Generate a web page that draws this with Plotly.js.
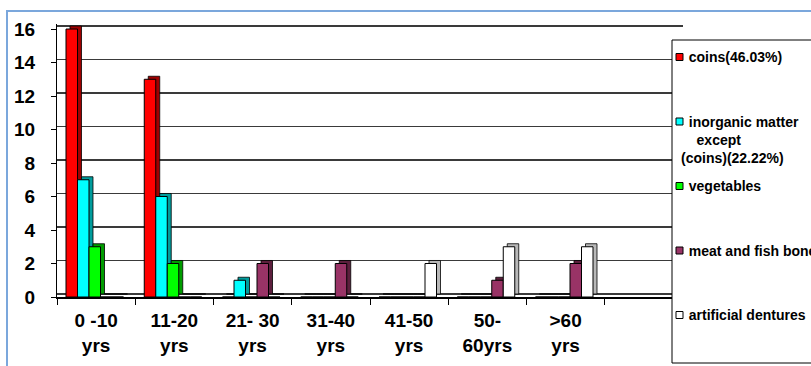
<!DOCTYPE html>
<html>
<head>
<meta charset="utf-8">
<script src="https://cdn.plot.ly/plotly-3.0.1.min.js"></script>
<style>
  html, body { margin: 0; padding: 0; background: #ffffff; }
  #chart { width: 811px; height: 366px; }
</style>
</head>
<body>
<div id="chart"></div>
<script>
// Age groups (x categories)
const ageGroups = ['0 -10<br>yrs', '11-20<br>yrs', '21- 30<br>yrs', '31-40<br>yrs', '41-50<br>yrs', '50-<br>60yrs', '>60<br>yrs'];

// Number of cases per foreign-body type in each age group
const coins        = [16, 13, 0, 0, 0, 0, 0];
const inorganic    = [7, 6, 1, 0, 0, 0, 0];
const vegetables   = [3, 2, 0, 0, 0, 0, 0];
const meatFishBone = [0, 0, 2, 2, 0, 1, 2];
const dentures     = [0, 0, 0, 0, 2, 3, 3];

const seriesNames  = ['coins(46.03%)', 'inorganic matter except (coins)(22.22%)', 'vegetables', 'meat and fish bone', 'artificial dentures'];
const NB = '\u00a0';
const legendLabels = [
  NB + NB + 'coins(46.03%)',
  NB + NB + 'inorganic matter<br>' + NB + NB + NB + NB + 'except<br>(coins)(22.22%)',
  NB + NB + 'vegetables',
  NB + NB + 'meat and fish bone',
  NB + NB + 'artificial dentures'
];
const yTicks = [0, 2, 4, 6, 8, 10, 12, 14, 16];

const seriesValues = [coins, inorganic, vegetables, meatFishBone, dentures];
const faceColors = ['#FF0000', '#00FFFF', '#00FF00', '#993366', '#FFFFFF'];
const sideColors = ['#A00000', '#009C9C', '#009C00', '#5C1F3D', '#B8B8B8'];

// plot-area geometry in page pixels (used to place frame / legend decorations)
const L = 57, R = 683, T = 24, B = 297;
const pxX = p => (p - L) / (R - L);
const pxY = p => (B - p) / (B - T);

const barW = 0.147;       // width of one bar, in category units
const groupStart = -0.385; // left edge of first bar relative to category centre
const depthX = 0.051;     // sideways depth of the 3-D look, category units

const FONT = 'Liberation Sans, Arial, sans-serif';

const traces = [];
// back (depth) faces, drawn on the shifted axis so they sit a few px higher
seriesValues.forEach((vals, i) => {
  traces.push({
    type: 'bar', x: ageGroups, y: vals, yaxis: 'y',
    width: barW, offset: groupStart + i * barW + depthX,
    marker: { color: sideColors[i], line: { color: '#000', width: 0.8 } },
    showlegend: false, hoverinfo: 'skip'
  });
});
// front faces
seriesValues.forEach((vals, i) => {
  traces.push({
    type: 'bar', name: seriesNames[i], x: ageGroups, y: vals, yaxis: 'y2',
    width: barW, offset: groupStart + i * barW,
    marker: { color: faceColors[i], line: { color: '#000', width: 1 } },
    showlegend: false
  });
});

const shapes = [
  // outer blue frame
  { type: 'rect', xref: 'paper', yref: 'paper', x0: pxX(7), x1: pxX(950), y0: pxY(11), y1: pxY(500),
    line: { color: '#7BA7DC', width: 2 }, fillcolor: 'rgba(0,0,0,0)', layer: 'below' },
  // legend box
  { type: 'rect', xref: 'paper', yref: 'paper', x0: pxX(672), x1: pxX(950), y0: pxY(40), y1: pxY(363),
    line: { color: '#000', width: 1 }, fillcolor: '#FFFFFF', layer: 'above' }
];
const annotations = [];
legendLabels.forEach((label, i) => {
  const yc = 57 + 64.5 * i;
  shapes.push({ type: 'rect', xref: 'paper', yref: 'paper',
    x0: pxX(676), x1: pxX(683), y0: pxY(yc - 3.5), y1: pxY(yc + 3.5),
    line: { color: '#000', width: 1 }, fillcolor: faceColors[i], layer: 'above' });
  annotations.push({ xref: 'paper', yref: 'paper', x: pxX(679), y: pxY(yc - 10),
    xanchor: 'left', yanchor: 'top', align: 'left', showarrow: false, text: label,
    font: { family: FONT, size: 14, weight: 'bold', color: '#000' } });
});

const layout = {
  width: 811, height: 366,
  margin: { l: L, r: 811 - R, t: T, b: 366 - B, pad: 0 },
  paper_bgcolor: '#FFFFFF', plot_bgcolor: '#FFFFFF',
  barmode: 'overlay',
  showlegend: false,
  xaxis: {
    type: 'category', range: [-0.5, 7.5],
    showline: true, linecolor: '#000', linewidth: 1.5,
    ticks: 'outside', tickson: 'boundaries', ticklen: 6, tickcolor: '#000',
    showgrid: false, zeroline: false,
    tickfont: { family: FONT, size: 19, weight: 'bold', color: '#000' },
    ticklabelstandoff: 6
  },
  // back wall axis: gridlines only, shifted up by the depth of the 3-D look
  yaxis: {
    range: [-0.18, 16.12], tickvals: yTicks,
    showgrid: true, gridcolor: '#3A3A3A', gridwidth: 1.6,
    showticklabels: false, ticks: '', showline: false, zeroline: false
  },
  // front axis: ticks and labels
  yaxis2: {
    overlaying: 'y', side: 'left', range: [0, 16.3], tickvals: yTicks,
    showgrid: false, zeroline: false,
    showline: true, linecolor: '#000', linewidth: 1,
    ticks: 'outside', ticklen: 5, tickcolor: '#000',
    tickfont: { family: FONT, size: 19, weight: 'bold', color: '#000' },
    ticklabelstandoff: 12
  },
  shapes: shapes,
  annotations: annotations
};

Plotly.newPlot('chart', traces, layout, { displayModeBar: false, staticPlot: true });
</script>
</body>
</html>
